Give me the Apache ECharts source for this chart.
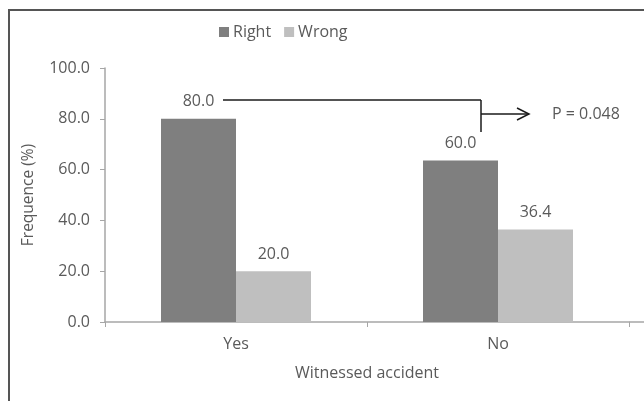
<!DOCTYPE html>
<html>
<head>
<meta charset="utf-8">
<script src="https://cdn.jsdelivr.net/npm/echarts@6/dist/echarts.min.js"></script>
<style>
  html, body { margin: 0; padding: 0; background: #fff; }
  #main { width: 644px; height: 401px; }
</style>
</head>
<body>
<div id="main"></div>
<script>
// data
var categories = ['Yes', 'No'];
var seriesNames = ['Right', 'Wrong'];
var rightValues = [80.0, 63.6];
var wrongValues = [20.0, 36.4];
var rightLabels = ['80.0', '60.0'];
var wrongLabels = ['20.0', '36.4'];
var pText = 'P = 0.048';

var FONT = 'Open Sans';
var TXT = '#5a5a5a';

var myChart = echarts.init(document.getElementById('main'));

var option = {
    animation: false,
    textStyle: { fontFamily: FONT },
    legend: {
        data: seriesNames,
        top: 19,
        left: 214,
        itemWidth: 10,
        itemHeight: 10,
        itemGap: 13,
        icon: 'rect',
        textStyle: { color: TXT, fontSize: 16, fontFamily: FONT, padding: [0, 0, 0, -1] }
    },
    grid: { left: 105, right: 15, top: 68, bottom: 79, containLabel: false },
    xAxis: {
        type: 'category',
        data: categories,
        name: 'Witnessed accident',
        nameLocation: 'middle',
        nameGap: 43,
        nameTextStyle: { color: TXT, fontSize: 16, fontFamily: FONT },
        axisLine: { lineStyle: { color: '#a6a6a6', width: 1.5 } },
        axisTick: { show: true, length: 5, lineStyle: { color: '#a6a6a6' } },
        axisLabel: { color: TXT, fontSize: 16, margin: 14, fontFamily: FONT }
    },
    yAxis: {
        type: 'value',
        min: 0,
        max: 100,
        interval: 20,
        name: 'Frequence (%)',
        nameLocation: 'middle',
        nameGap: 68,
        nameTextStyle: { color: TXT, fontSize: 15.5, fontFamily: FONT },
        axisLine: { show: true, lineStyle: { color: '#a6a6a6', width: 1.5 } },
        axisTick: { show: true, length: 5, lineStyle: { color: '#a6a6a6' } },
        splitLine: { show: false },
        axisLabel: {
            color: TXT, fontSize: 16, margin: 15, fontFamily: FONT,
            formatter: function (v) { return v.toFixed(1); }
        }
    },
    series: [{
        name: 'Right',
        type: 'bar',
        data: rightValues,
        barWidth: 75,
        barGap: '0%',
        itemStyle: { color: '#7f7f7f' },
        label: {
            show: true, position: 'top', distance: 9,
            color: TXT, fontSize: 16, fontFamily: FONT,
            formatter: function (p) { return rightLabels[p.dataIndex]; }
        }
    }, {
        name: 'Wrong',
        type: 'bar',
        data: wrongValues,
        barWidth: 75,
        itemStyle: { color: '#bfbfbf' },
        label: {
            show: true, position: 'top', distance: 9,
            color: TXT, fontSize: 16, fontFamily: FONT,
            formatter: function (p) { return wrongLabels[p.dataIndex]; }
        }
    }]
};

myChart.setOption(option);

// frame, axis extension and the P-value bracket
function drawExtras() {
    var w = myChart.getWidth();
    var h = myChart.getHeight();
    var y0 = myChart.convertToPixel({ yAxisIndex: 0 }, 0);
    var yTop = myChart.convertToPixel({ yAxisIndex: 0 }, 87.4);
    var yArrow = myChart.convertToPixel({ yAxisIndex: 0 }, 81.9);
    var yBottom = myChart.convertToPixel({ yAxisIndex: 0 }, 74.8);
    var xYes = myChart.convertToPixel({ xAxisIndex: 0 }, 'Yes');
    var xNo = myChart.convertToPixel({ xAxisIndex: 0 }, 'No');
    var xStart = xYes - 13;
    var xJoin = xNo - 17;
    var xEnd = xJoin + 48;
    var lineStyle = { stroke: '#1a1a1a', lineWidth: 1.5 };
    myChart.setOption({
        graphic: [
            { type: 'line', shape: { x1: 8, y1: 10, x2: w, y2: 10 }, style: { stroke: '#555', lineWidth: 2 } },
            { type: 'line', shape: { x1: 9, y1: 10, x2: 9, y2: h }, style: { stroke: '#555', lineWidth: 2 } },
            { type: 'line', shape: { x1: w - 15, y1: y0, x2: w, y2: y0 }, style: { stroke: '#a6a6a6', lineWidth: 1.5 } },
            { type: 'line', shape: { x1: xStart, y1: yTop, x2: xJoin, y2: yTop }, style: lineStyle },
            { type: 'line', shape: { x1: xJoin, y1: yTop, x2: xJoin, y2: yBottom }, style: lineStyle },
            { type: 'line', shape: { x1: xJoin, y1: yArrow, x2: xEnd, y2: yArrow }, style: lineStyle },
            { type: 'polyline', shape: { points: [[xEnd - 12, yArrow - 6], [xEnd, yArrow], [xEnd - 12, yArrow + 6]] }, style: { stroke: '#1a1a1a', lineWidth: 1.5, fill: null } },
            { type: 'text', x: xEnd + 23, y: yArrow, style: { text: pText, fill: TXT, font: '16px "' + FONT + '"', verticalAlign: 'middle' } }
        ]
    });
}
drawExtras();
</script>
</body>
</html>
